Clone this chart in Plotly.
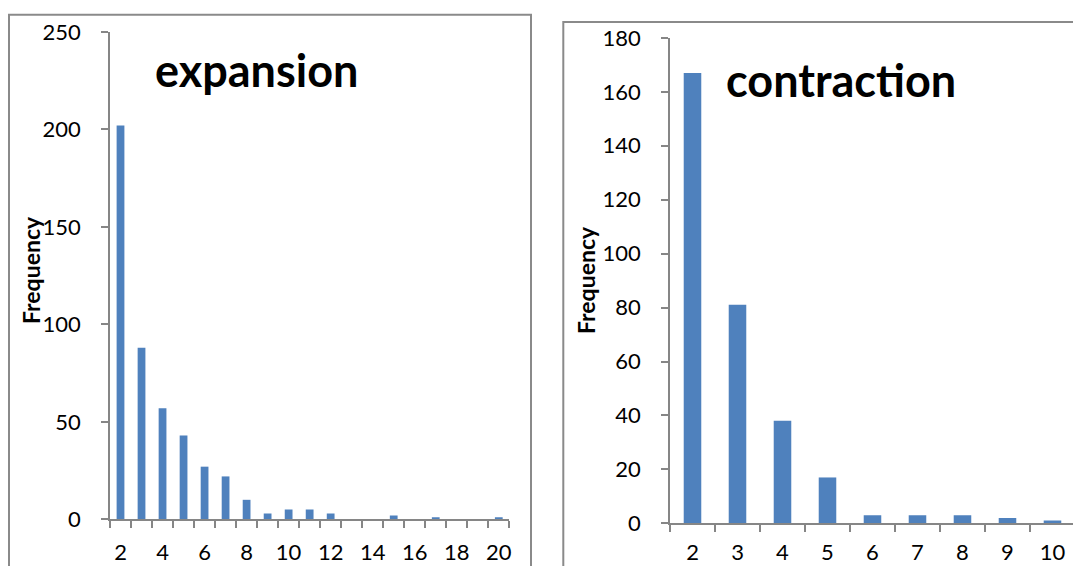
import plotly.graph_objects as go

# Frequency of run lengths for the two regimes
expansion_lengths = [str(v) for v in range(2, 21)]
expansion_counts = [202, 88, 57, 43, 27, 22, 10, 3, 5, 5, 3, 0, 0, 2, 0, 1, 0, 0, 1]
expansion_ticktext = [s if int(s) % 2 == 0 else "" for s in expansion_lengths]

contraction_lengths = [str(v) for v in range(2, 11)]
contraction_counts = [167, 81, 38, 17, 3, 3, 3, 2, 1]

W, H = 1073, 566
BAR = "#4F81BD"
AXIS = "#868686"
FONT = "Lato"


def px(x):
    return x / W


def py(y):
    return 1 - y / H


fig = go.Figure()
fig.add_trace(go.Bar(x=expansion_lengths, y=expansion_counts, xaxis="x", yaxis="y",
                     marker=dict(color=BAR, line=dict(width=0)), width=0.37))
fig.add_trace(go.Bar(x=contraction_lengths, y=contraction_counts, xaxis="x2", yaxis="y2",
                     marker=dict(color=BAR, line=dict(width=0)), width=0.39))

common_x = dict(type="category", showline=True, linecolor=AXIS, linewidth=1.5,
                ticks="outside", ticklen=7, tickwidth=1.5, tickcolor=AXIS,
                tickson="boundaries", showgrid=False, zeroline=False, tickangle=0,
                automargin=False,
                tickfont=dict(family=FONT, size=22, color="black"),
                fixedrange=True)
common_y = dict(showline=True, linecolor=AXIS, linewidth=1.5,
                ticks="outside", ticklen=7, tickwidth=1.5, tickcolor=AXIS,
                showgrid=False, zeroline=False, automargin=False,
                tickfont=dict(family=FONT, size=22, color="black"),
                ticklabelstandoff=16, fixedrange=True)

fig.update_layout(
    width=W, height=H,
    margin=dict(l=0, r=0, t=0, b=0, pad=0, autoexpand=False),
    paper_bgcolor="white", plot_bgcolor="white",
    showlegend=False,
    xaxis=dict(common_x, domain=[px(110), px(509.3)], range=[-0.5, 18.5],
               tickmode="array", tickvals=expansion_lengths, ticktext=expansion_ticktext,
               ticklabelstandoff=13, anchor="y"),
    yaxis=dict(common_y, domain=[py(519.3), py(32)], range=[0, 250], dtick=50, anchor="x"),
    xaxis2=dict(common_x, domain=[px(670), 1], range=[-0.5, 8.456],
                tickmode="array", tickvals=contraction_lengths, ticktext=contraction_lengths,
                ticklabelstandoff=9, anchor="y2"),
    yaxis2=dict(common_y, domain=[py(523.3), py(37.9)], range=[0, 180], dtick=20, anchor="x2"),
    shapes=[
        dict(type="rect", xref="paper", yref="paper", x0=px(9), x1=px(531),
             y0=-0.2, y1=py(14.7), line=dict(color="#8A8A8A", width=2), layer="below"),
        dict(type="rect", xref="paper", yref="paper", x0=px(563.3), x1=1.2,
             y0=-0.2, y1=py(22), line=dict(color="#8A8A8A", width=2), layer="below"),
    ],
    annotations=[
        dict(text="<b>expansion</b>", xref="paper", yref="paper", x=px(256), y=py(70),
             xanchor="center", yanchor="middle", showarrow=False,
             font=dict(family=FONT, size=45, color="black")),
        dict(text="<b>contrac\u200ction</b>", xref="paper", yref="paper", x=px(841), y=py(80),
             xanchor="center", yanchor="middle", showarrow=False,
             font=dict(family=FONT, size=45, color="black")),
        dict(text="<b>Frequency</b>", xref="paper", yref="paper", x=px(31), y=py(270),
             xanchor="center", yanchor="middle", showarrow=False, textangle=-90,
             font=dict(family=FONT, size=23, color="black")),
        dict(text="<b>Frequency</b>", xref="paper", yref="paper", x=px(586), y=py(280),
             xanchor="center", yanchor="middle", showarrow=False, textangle=-90,
             font=dict(family=FONT, size=23, color="black")),
    ],
)

fig.write_html("out.html")
